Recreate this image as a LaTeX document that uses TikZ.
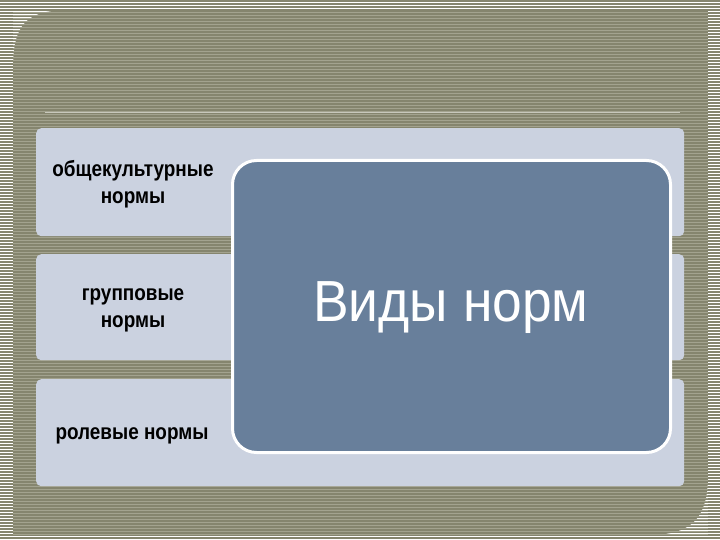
\documentclass[tikz,border=0pt]{standalone}
\usepackage{fontspec}
\setmainfont{Liberation Sans}
\newfontfamily\rowfont[FakeStretch=0.86]{Liberation Sans}
\newfontfamily\titlefont[FakeStretch=0.92]{Liberation Sans}
\usepackage{tikz}

\definecolor{olive}{HTML}{85856E}
\definecolor{stripe}{HTML}{A3A38F}
\definecolor{rowgray}{HTML}{CBD2E0}
\definecolor{slate}{HTML}{687F9B}

\tikzset{
  rowbox/.style={fill=rowgray, rounded corners=5pt},
  rowtext/.style={font=\rowfont\bfseries\fontsize{22}{27}\selectfont, align=center, text=black},
}

\begin{document}
\begin{tikzpicture}[x=1pt,y=-1pt]
            \useasboundingbox (0,0) rectangle (720,540);
            % striped background
            \fill[white] (0,0) rectangle (720,540);
            \foreach \y in {0,3,...,540}
                \fill[olive] (0,\y) rectangle (720,\y+1.6);

            % panel
            \fill[olive] (13,10) -- (708,10) -- (708,475) .. controls (708,520) and (690,535) .. (648,535)
                -- (13,535) -- (13,70) .. controls (13,25) and (25,10) .. (70,10) -- cycle;
            \foreach \y in {12,15,...,534}
                \draw[stripe, line width=0.5pt] (13,\y) -- (708,\y);
            \fill[white] (708,10) rectangle (720,475);
            \foreach \y in {9,12,...,540}
                \fill[olive] (708,\y) rectangle (720,\y+1.6);
            \draw[stripe!60!white, line width=1pt] (45,113) -- (680,113);

            % rows
            \node[rowbox, minimum width=648pt, minimum height=108pt, anchor=north west] (r1) at (36,128) {};
            \node[rowbox, minimum width=648pt, minimum height=106pt, anchor=north west] (r2) at (36,254) {};
            \node[rowbox, minimum width=648pt, minimum height=107pt, anchor=north west] (r3) at (36,379) {};

            \node[rowtext] (t1) at (133,184) {общекультурные\\нормы};
            \node[rowtext] (t2) at (133,310) {групповые\\нормы};
            \node[rowtext] (t3) at (132,436) {ролевые нормы};

            % center box
            \node[fill=slate, draw=white, line width=3pt, rounded corners=24pt,
                minimum width=438pt, minimum height=292pt, anchor=north west] (main) at (231,159) {};
            \node[text=white, font=\titlefont\fontsize{58}{66}\selectfont] (title) at (451,308) {Виды норм};
        \end{tikzpicture}
\end{document}
